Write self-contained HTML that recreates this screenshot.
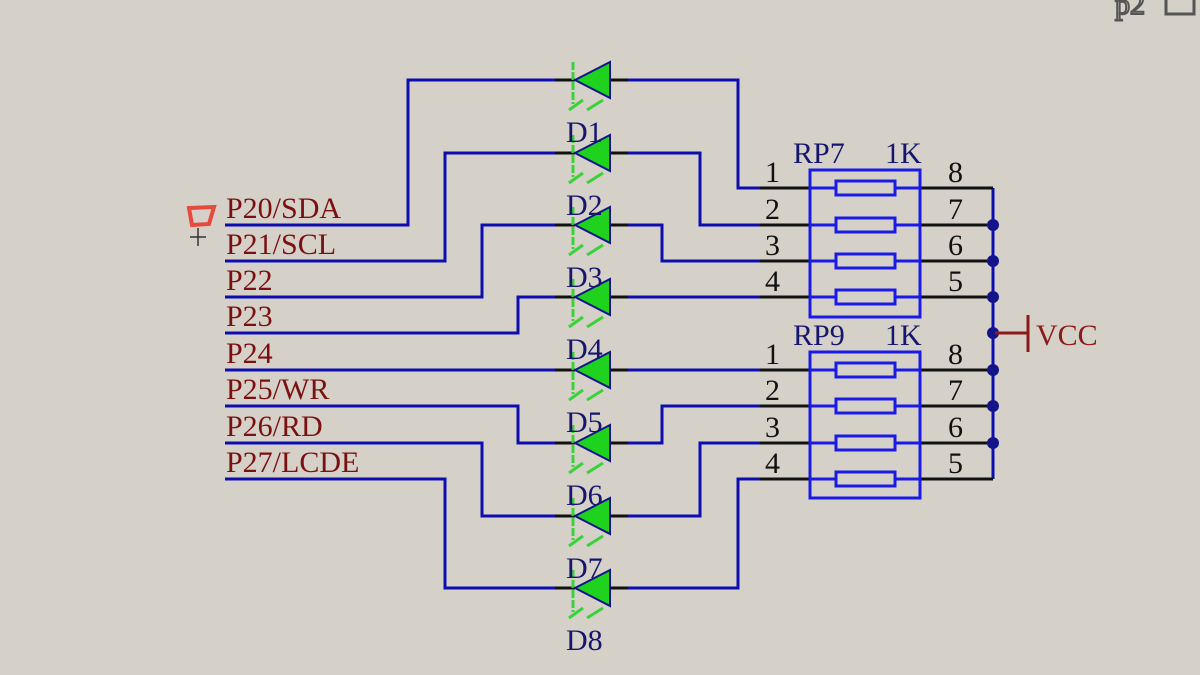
<!DOCTYPE html>
<html><head><meta charset="utf-8"><style>
html,body{margin:0;padding:0;background:#d5d1c8;}
svg{display:block;}
text{font-family:"Liberation Serif",serif;font-size:30px;}
</style></head><body>
<svg width="1200" height="675" viewBox="0 0 1200 675" xmlns="http://www.w3.org/2000/svg">
<rect width="1200" height="675" fill="#d5d1c8"/>
<text x="1115" y="14" font-size="30" fill="#d5d1c8" stroke="#555" stroke-width="2">p2</text>
<rect x="1166" y="-4" width="28" height="18" fill="none" stroke="#555" stroke-width="3"/>
<path d="M189 208 L214 207 L209 224 L192 225 Z" fill="none" stroke="#e64a3c" stroke-width="4"/>
<path d="M198 228 V246 M190 237 H206" stroke="#333" stroke-width="1.5"/>

<g fill="#7a1010">
<text x="226" y="218">P20/SDA</text>
<text x="226" y="254">P21/SCL</text>
<text x="226" y="290">P22</text>
<text x="226" y="326">P23</text>
<text x="226" y="363">P24</text>
<text x="226" y="399">P25/WR</text>
<text x="226" y="436">P26/RD</text>
<text x="226" y="472">P27/LCDE</text>
</g>

<g fill="none" stroke="#0e0eb0" stroke-width="3">
<path d="M225 225 H408 V80 H557"/>
<path d="M626 80 H738 V188 H760"/>
<path d="M225 261 H445 V153 H557"/>
<path d="M626 153 H700 V225 H760"/>
<path d="M225 297 H482 V225 H557"/>
<path d="M626 225 H662 V261 H760"/>
<path d="M225 333 H518 V297 H557"/>
<path d="M626 297 H760"/>
<path d="M225 370 H557"/>
<path d="M626 370 H760"/>
<path d="M225 406 H518 V443 H557"/>
<path d="M626 443 H662 V406 H760"/>
<path d="M225 443 H482 V516 H557"/>
<path d="M626 516 H700 V443 H760"/>
<path d="M225 479 H445 V588 H557"/>
<path d="M626 588 H738 V479 H760"/>
<path d="M993 188 V479"/>
</g>

<defs>
<g id="d">
<path d="M555 0 H575 M610 0 H628" stroke="#111" stroke-width="3"/>
<path d="M573 -18 V24" stroke="#3ad23a" stroke-width="3" stroke-dasharray="8 2"/>
<polygon points="575,0 610,-18 610,18" fill="#1ed21e" stroke="#14148a" stroke-width="2"/>
<path d="M569 30 L583 20 M587 30 L603 20" stroke="#3ad23a" stroke-width="3"/>
</g>
</defs>
<use href="#d" transform="translate(0,80)"/>
<use href="#d" transform="translate(0,153)"/>
<use href="#d" transform="translate(0,225)"/>
<use href="#d" transform="translate(0,297)"/>
<use href="#d" transform="translate(0,370)"/>
<use href="#d" transform="translate(0,443)"/>
<use href="#d" transform="translate(0,516)"/>
<use href="#d" transform="translate(0,588)"/>

<g fill="#16166e">
<text x="566" y="142">D1</text>
<text x="566" y="215">D2</text>
<text x="566" y="287">D3</text>
<text x="566" y="359">D4</text>
<text x="566" y="432">D5</text>
<text x="566" y="505">D6</text>
<text x="566" y="578">D7</text>
<text x="566" y="650">D8</text>
</g>

<g stroke="#111" stroke-width="3">
<path d="M760 188 H836 M895 188 H993"/>
<path d="M760 225 H836 M895 225 H993"/>
<path d="M760 261 H836 M895 261 H993"/>
<path d="M760 297 H836 M895 297 H993"/>
<path d="M760 370 H836 M895 370 H993"/>
<path d="M760 406 H836 M895 406 H993"/>
<path d="M760 443 H836 M895 443 H993"/>
<path d="M760 479 H836 M895 479 H993"/>
</g>
<g fill="none" stroke="#1a1ae6" stroke-width="3">
<rect x="810" y="170" width="110" height="147"/>
<rect x="810" y="352" width="110" height="146"/>
<path d="M810 188 H920 M810 225 H920 M810 261 H920 M810 297 H920 M810 370 H920 M810 406 H920 M810 443 H920 M810 479 H920"/>
</g>
<g fill="#d5d1c8" stroke="#1a1ae6" stroke-width="3">
<rect x="836" y="181" width="59" height="14"/>
<rect x="836" y="218" width="59" height="14"/>
<rect x="836" y="254" width="59" height="14"/>
<rect x="836" y="290" width="59" height="14"/>
<rect x="836" y="363" width="59" height="14"/>
<rect x="836" y="399" width="59" height="14"/>
<rect x="836" y="436" width="59" height="14"/>
<rect x="836" y="472" width="59" height="14"/>
</g>
<g fill="#16166e">
<text x="793" y="163">RP7</text><text x="885" y="163">1K</text>
<text x="793" y="345">RP9</text><text x="885" y="345">1K</text>
</g>
<g fill="#111">
<text x="765" y="182">1</text><text x="765" y="219">2</text><text x="765" y="255">3</text><text x="765" y="291">4</text>
<text x="948" y="182">8</text><text x="948" y="219">7</text><text x="948" y="255">6</text><text x="948" y="291">5</text>
<text x="765" y="364">1</text><text x="765" y="400">2</text><text x="765" y="437">3</text><text x="765" y="473">4</text>
<text x="948" y="364">8</text><text x="948" y="400">7</text><text x="948" y="437">6</text><text x="948" y="473">5</text>
</g>
<g fill="#14148a">
<circle cx="993" cy="225" r="6"/><circle cx="993" cy="261" r="6"/><circle cx="993" cy="297" r="6"/>
<circle cx="993" cy="333" r="6"/><circle cx="993" cy="370" r="6"/><circle cx="993" cy="406" r="6"/>
<circle cx="993" cy="443" r="6"/>
</g>
<path d="M995 333 H1028 M1028 315 V352" stroke="#8b1a1a" stroke-width="3" fill="none"/>
<text x="1036" y="345" fill="#8b1a1a">VCC</text>
</svg>
</body></html>
